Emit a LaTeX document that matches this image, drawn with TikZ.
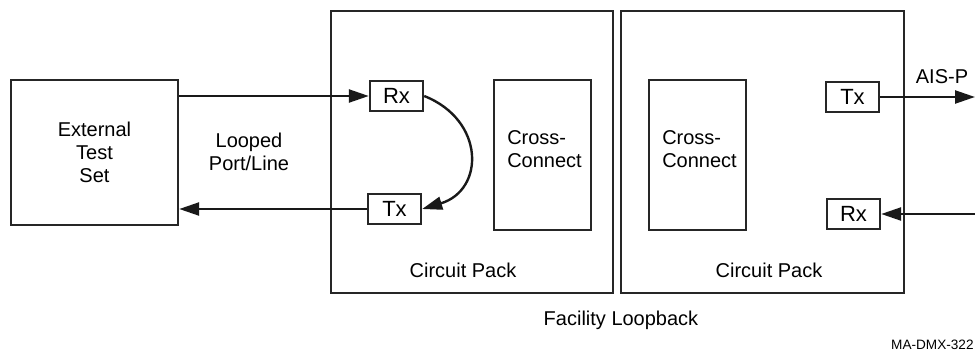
\documentclass[tikz,border=0pt]{standalone}
\usepackage{fontspec}
\setmainfont{Liberation Sans}
\usetikzlibrary{arrows.meta}
\begin{document}
\begin{tikzpicture}[x=0.5pt,y=-0.5pt,
  box/.style={draw=black!85,line width=1.2pt,inner sep=0pt},
  port/.style={box,minimum width=26.5pt,minimum height=15pt,font=\fontsize{11}{12}\selectfont},
  txt/.style={font=\fontsize{10}{11.5}\selectfont,align=center,inner sep=0pt},
  ccbox/.style={box,minimum width=48.5pt,minimum height=75pt,
    label={[font=\fontsize{10}{11.5}\selectfont,align=left,inner sep=0pt,yshift=3pt,xshift=1pt]center:{Cross-\\Connect}}},
  arr/.style={line width=1.2pt,draw=black!90,-{Triangle[length=10pt,width=6.5pt]}}]
\useasboundingbox (0,0) rectangle (975,354);
% main boxes
\node[box,minimum width=83.5pt,minimum height=72.5pt,txt] (ets) at (94.5,152.5) {External\\Test\\Set};
\node[box,minimum width=141pt,minimum height=141pt] (cp1) at (472,152) {};
\node[box,minimum width=141.5pt,minimum height=141pt] (cp2) at (762.5,152) {};
\node[ccbox] (cc1) at (542.5,155) {};
\node[ccbox] (cc2) at (697.5,155) {};
% ports
\node[port] (rx1) at (396.5,96) {Rx};
\node[port] (tx1) at (394.5,209) {Tx};
\node[port] (tx2) at (852.5,97) {Tx};
\node[port] (rx2) at (853.5,214) {Rx};
% labels
\node[txt] (lp) at (249,152) {Looped\\Port/Line};
\node[txt] (cpl1) at (463,270) {Circuit Pack};
\node[txt] (cpl2) at (769,270) {Circuit Pack};
\node[txt] (ais) at (942,77) {AIS-P};
\node[txt] (fl) at (621,320) {Facility Loopback};
\node[font=\fontsize{6.8}{8}\selectfont,anchor=east,inner sep=0pt] (id) at (974,345) {MA-DMX-322};
% free ends
\coordinate (outT) at (975,97);
\coordinate (inR) at (975,214);
% connectors
\draw[arr] (ets.east |- rx1.west) -- (rx1.west);
\draw[arr] (tx1.west) -- (ets.east |- tx1.west);
\draw[arr] (rx1.east) .. controls (485,120) and (485,190) .. (tx1.east);
\draw[arr] (tx2.east) -- (outT);
\draw[arr] (inR) -- (rx2.east);
\end{tikzpicture}
\end{document}
